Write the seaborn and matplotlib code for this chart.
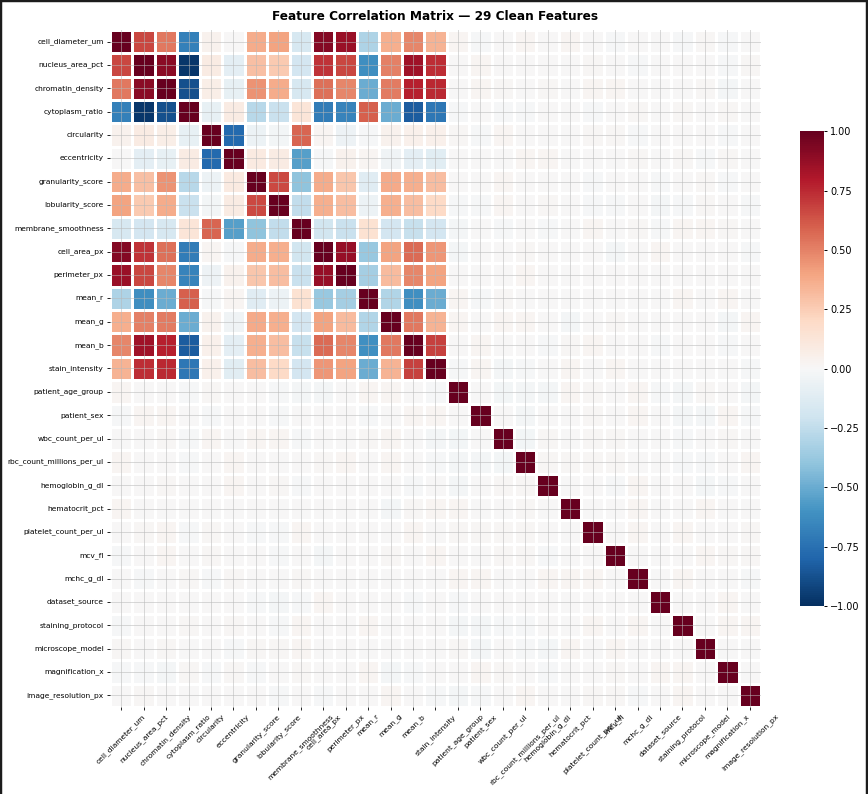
import numpy as np
import pandas as pd
import seaborn as sns
import matplotlib.pyplot as plt
from matplotlib.lines import Line2D

features = [
    "cell_diameter_um", "nucleus_area_pct", "chromatin_density", "cytoplasm_ratio",
    "circularity", "eccentricity", "granularity_score", "lobularity_score",
    "membrane_smoothness", "cell_area_px", "perimeter_px", "mean_r", "mean_g",
    "mean_b", "stain_intensity", "patient_age_group", "patient_sex",
    "wbc_count_per_ul", "rbc_count_millions_per_ul", "hemoglobin_g_dl",
    "hematocrit_pct", "platelet_count_per_ul", "mcv_fl", "mchc_g_dl",
    "dataset_source", "staining_protocol", "microscope_model", "magnification_x",
    "image_resolution_px",
]

# lower triangle of the correlation matrix, row by row (diagonal excluded)
lower_rows = [
    [],
    [0.67],
    [0.53, 0.90],
    [-0.68, -0.97, -0.88],
    [0.04, 0.08, 0.07, -0.08],
    [0.00, -0.10, -0.08, 0.08, -0.78],
    [0.37, 0.30, 0.45, -0.28, -0.06, 0.09],
    [0.40, 0.26, 0.37, -0.22, -0.03, 0.08, 0.66],
    [-0.17, -0.18, -0.17, 0.13, 0.58, -0.55, -0.40, -0.25],
    [0.92, 0.72, 0.55, -0.70, 0.02, -0.01, 0.37, 0.36, -0.19],
    [0.86, 0.67, 0.49, -0.67, -0.05, 0.04, 0.28, 0.31, -0.22, 0.87],
    [-0.31, -0.62, -0.50, 0.60, -0.01, 0.02, -0.12, -0.06, 0.15, -0.38, -0.34],
    [0.36, 0.50, 0.52, -0.50, 0.04, -0.04, 0.38, 0.36, -0.18, 0.40, 0.32, -0.30],
    [0.49, 0.85, 0.78, -0.83, 0.05, -0.10, 0.36, 0.31, -0.23, 0.57, 0.49, -0.61, 0.53],
    [0.35, 0.74, 0.75, -0.72, 0.05, -0.11, 0.31, 0.20, -0.18, 0.44, 0.40, -0.50, 0.35, 0.68],
    [0.02, 0.00, 0.00, -0.01, 0.01, 0.00, 0.00, -0.01, -0.02, -0.02, 0.00, 0.02, 0.02, 0.00, -0.01],
    [-0.01, 0.02, 0.02, 0.00, -0.01, 0.00, 0.00, -0.01, 0.00, 0.00, 0.00, -0.01, 0.00, 0.02, 0.02,
     0.00],
    [0.00, 0.00, 0.01, -0.01, 0.02, 0.00, 0.02, 0.02, -0.01, 0.00, 0.00, 0.01, 0.02, 0.00, -0.02,
     -0.03, 0.00],
    [0.02, 0.00, 0.00, -0.01, 0.00, 0.02, 0.00, 0.00, 0.00, 0.01, 0.02, 0.00, 0.02, 0.00, -0.01,
     -0.02, -0.02, -0.03],
    [0.00, 0.00, 0.01, 0.00, 0.00, 0.02, 0.00, 0.01, -0.01, 0.00, 0.00, 0.00, 0.00, -0.01, 0.00,
     -0.02, 0.00, 0.01, 0.01],
    [0.02, 0.00, 0.00, 0.00, 0.00, 0.00, 0.00, 0.00, 0.00, 0.00, 0.00, 0.00, -0.02, 0.01, 0.02,
     0.02, 0.00, 0.00, 0.01, 0.00],
    [0.00, 0.01, 0.02, -0.01, 0.01, 0.00, -0.01, -0.01, 0.02, 0.00, 0.00, 0.00, 0.00, 0.02, 0.00,
     0.01, 0.01, 0.01, 0.01, 0.00, 0.00],
    [-0.01, 0.00, 0.02, 0.00, 0.01, 0.00, 0.00, -0.01, 0.00, -0.02, 0.00, 0.00, 0.01, 0.00, 0.02,
     0.00, 0.00, 0.01, 0.01, -0.01, 0.00, 0.00],
    [0.00, -0.01, 0.00, 0.01, -0.01, 0.01, 0.00, 0.00, 0.01, 0.00, 0.00, 0.00, 0.00, 0.00, 0.00,
     0.02, 0.02, 0.00, 0.00, 0.02, 0.02, 0.02, 0.00],
    [0.00, 0.00, 0.00, 0.00, 0.00, 0.00, -0.01, -0.02, -0.01, 0.02, 0.00, 0.00, 0.00, -0.01, 0.00,
     -0.01, 0.00, 0.00, 0.00, 0.00, 0.00, 0.00, 0.00, 0.00],
    [-0.01, 0.00, 0.00, 0.01, 0.00, 0.01, 0.00, -0.01, 0.02, 0.00, 0.00, 0.02, 0.00, 0.00, 0.00,
     -0.02, -0.02, -0.01, -0.01, 0.00, 0.00, 0.02, 0.00, 0.02, 0.00],
    [0.01, 0.00, 0.01, 0.00, 0.00, -0.01, 0.01, 0.01, 0.02, 0.00, 0.00, 0.00, 0.00, 0.00, 0.00,
     0.01, -0.02, 0.00, -0.01, -0.02, 0.02, 0.00, 0.02, 0.00, 0.00, 0.00],
    [-0.01, -0.01, -0.02, 0.01, -0.01, 0.01, -0.01, 0.00, 0.01, 0.00, 0.00, 0.02, -0.02, -0.01, 0.00,
     0.00, 0.02, 0.01, 0.00, -0.01, 0.00, 0.00, 0.01, 0.00, 0.02, 0.02, 0.00],
    [0.00, 0.01, 0.00, 0.00, 0.00, 0.00, 0.00, -0.01, 0.00, -0.01, 0.00, 0.00, 0.02, 0.00, -0.01,
     -0.02, -0.01, 0.00, 0.02, 0.00, 0.00, 0.01, 0.01, -0.01, 0.00, 0.02, 0.00, 0.00],
]

n = len(features)
corr_values = np.eye(n)
for i, row in enumerate(lower_rows):
    for j, v in enumerate(row):
        corr_values[i, j] = v
        corr_values[j, i] = v
corr = pd.DataFrame(corr_values, index=features, columns=features)

fig = plt.figure(figsize=(8.68, 7.94), dpi=100)

# dark frame on left, top and right like the screenshot
for xs, ys in [([0, 0], [0, 1]), ([0, 1], [1, 1]), ([1, 1], [0, 1])]:
    fig.add_artist(Line2D(xs, ys, transform=fig.transFigure,
                          color="#1c1c1c", linewidth=3.2))

ax = fig.add_axes([0.1267, 0.1096, 0.75, 0.8526])
cax = fig.add_axes([0.9217, 0.2368, 0.0276, 0.598])

sns.heatmap(
    corr,
    ax=ax,
    cbar_ax=cax,
    cmap="RdBu_r",
    vmin=-1,
    vmax=1,
    center=0,
    linewidths=0.9,
    linecolor="white",
    square=False,
)

ax.set_xticks(np.arange(n) + 0.5)
ax.set_yticks(np.arange(n) + 0.5)
ax.set_xticklabels(features, rotation=45, ha="center", fontsize=5.4)
ax.set_yticklabels(features, rotation=0, fontsize=5.4)
ax.tick_params(axis="both", length=2.2, width=0.7, pad=2.2, color="#222222")
ax.grid(True, color="#b8b8b8", alpha=0.55, linewidth=0.7)
ax.set_axisbelow(False)
ax.set_title("Feature Correlation Matrix — 29 Clean Features",
             fontsize=8.7, fontweight="bold", pad=7)

cax.tick_params(labelsize=7, length=2.2, width=0.7, pad=2.2)

fig.savefig("out.png", dpi=100)
